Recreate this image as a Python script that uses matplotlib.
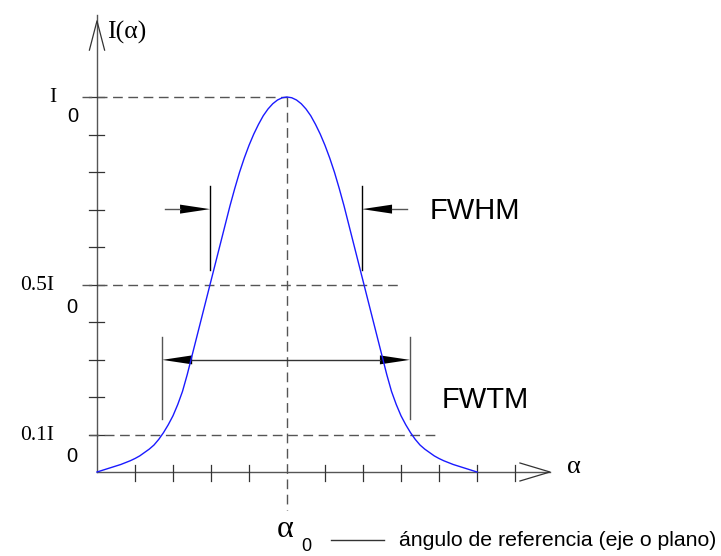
import numpy as np
import matplotlib
matplotlib.use("Agg")
import matplotlib.pyplot as plt

# ---------------- data ----------------
# angle in tick units relative to alpha_0 (left half, 0.125 steps), intensity in units of I0
alpha_left = [-5.0, -4.875, -4.75, -4.625, -4.5, -4.375, -4.25, -4.125,
              -4.0, -3.875, -3.75, -3.625, -3.5, -3.375, -3.25, -3.125,
              -3.0, -2.875, -2.75, -2.625, -2.5, -2.375, -2.25, -2.125,
              -2.0, -1.875, -1.75, -1.625, -1.5, -1.375, -1.25, -1.125,
              -1.0, -0.875, -0.75, -0.625, -0.5, -0.375, -0.25, -0.125, 0.0]
intensity_left = [0.000, 0.004, 0.008, 0.012, 0.016, 0.020, 0.025, 0.030,
                  0.036, 0.043, 0.052, 0.061, 0.072, 0.087, 0.105, 0.126,
                  0.150, 0.180, 0.215, 0.260, 0.310, 0.360, 0.410, 0.460,
                  0.510, 0.560, 0.610, 0.660, 0.710, 0.756, 0.799, 0.837,
                  0.871, 0.901, 0.927, 0.950, 0.968, 0.982, 0.992, 0.998, 1.000]
# the right half mirrors the left one
alpha_right = [0.125, 0.25, 0.375, 0.5, 0.625, 0.75, 0.875, 1.0,
               1.125, 1.25, 1.375, 1.5, 1.625, 1.75, 1.875, 2.0,
               2.125, 2.25, 2.375, 2.5, 2.625, 2.75, 2.875, 3.0,
               3.125, 3.25, 3.375, 3.5, 3.625, 3.75, 3.875, 4.0,
               4.125, 4.25, 4.375, 4.5, 4.625, 4.75, 4.875, 5.0]
intensity_right = [0.998, 0.992, 0.982, 0.968, 0.950, 0.927, 0.901, 0.871,
                   0.837, 0.799, 0.756, 0.710, 0.660, 0.610, 0.560, 0.510,
                   0.460, 0.410, 0.360, 0.310, 0.260, 0.215, 0.180, 0.150,
                   0.126, 0.105, 0.087, 0.072, 0.061, 0.052, 0.043, 0.036,
                   0.030, 0.025, 0.020, 0.016, 0.012, 0.008, 0.004, 0.000]
x_ticks = [-4, -3, -2, -1, 1, 2, 3, 4, 5, 6]
y_ticks = [0.1, 0.2, 0.3, 0.4, 0.5, 0.6, 0.7, 0.8, 0.9, 1.0]
ref_labels = ["I", "0.5I", "0.1I"]

alpha = alpha_left + alpha_right
intensity = intensity_left + intensity_right

# ---------------- figure ----------------
fig = plt.figure(figsize=(7.21, 5.56), dpi=100)
ax = fig.add_axes([0, 0, 1, 1])
ax.set_xlim(-287 / 38, (721 - 287) / 38)
ax.set_ylim((472 - 556) / 375, 472 / 375)
ax.axis("off")

gray = "#555555"
dark = "#333333"
serif = "Liberation Serif"
sans = "Liberation Sans"

# axes
ax.plot([-5, -5], [0, 1.219], color=gray, lw=1.0)
ax.plot([-5.20, -5, -4.80], [1.125, 1.203, 1.125], color=dark, lw=0.9)
ax.plot([-5, 6.92], [0, 0], color=gray, lw=1.0)
ax.plot([6.13, 6.92, 6.13], [0.024, 0, -0.024], color=dark, lw=0.9)

for t in x_ticks:
    ax.plot([t, t], [0.019, -0.024], color=dark, lw=0.9)
for t in y_ticks:
    ax.plot([-5.21, -4.82], [t, t], color=dark, lw=0.9)

# dashed reference lines
dash = dict(color=gray, lw=1.0, dashes=(7, 4))
ax.plot([-5.39, 0], [1.0, 1.0], **dash)
ax.plot([-5.39, 2.97], [0.5, 0.5], **dash)
ax.plot([-5.21, 3.97], [0.1, 0.1], **dash)
ax.plot([0, 0], [1.0, -0.101], **dash)

# curve
ax.plot(alpha, intensity, color="#1a1aff", lw=1.0)

a = np.array(alpha_left)
v = np.array(intensity_left)
hl = np.interp(0.5, v, a)
tl = np.interp(0.1, v, a)
hr = -hl - 0.05
tr = -tl - 0.05

L = 30 / 38   # arrow head length
H = 0.012     # arrow head half height

# FWHM markers
ax.plot([hl, hl], [0.539, 0.763], color="black", lw=1.0)
ax.plot([hr, hr], [0.539, 0.763], color="black", lw=1.0)
yh = 0.701
ax.plot([hl - L - 0.4, hl - L], [yh, yh], color=gray, lw=1.0)
ax.fill([hl - L, hl, hl - L], [yh + H, yh, yh - H], color="black", lw=0)
ax.plot([hr + L, hr + L + 0.4], [yh, yh], color=gray, lw=1.0)
ax.fill([hr + L, hr, hr + L], [yh + H, yh, yh - H], color="black", lw=0)

# FWTM markers
ax.plot([tl, tl], [0.141, 0.36], color=gray, lw=1.0)
ax.plot([tr, tr], [0.141, 0.36], color=gray, lw=1.0)
yt = 0.299
ax.plot([tl + L, tr - L], [yt, yt], color=dark, lw=1.0)
ax.fill([tl + L, tl, tl + L], [yt + H, yt, yt - H], color="black", lw=0)
ax.fill([tr - L, tr, tr - L], [yt + H, yt, yt - H], color="black", lw=0)

# texts
ax.text(-4.74, 1.157, "I(α)", family=serif, fontsize=18.5, ha="left", va="baseline")
ax.text(-6.27, 0.987, ref_labels[0], family=serif, fontsize=15.5, ha="left", va="baseline")
ax.text(-5.79, 0.933, "0", family=sans, fontsize=14.5, ha="left", va="baseline")
ax.text(-6.13, 0.485, ref_labels[1], family=serif, fontsize=15.5, ha="right", va="baseline")
ax.text(-5.82, 0.424, "0", family=sans, fontsize=14.5, ha="left", va="baseline")
ax.text(-6.13, 0.085, ref_labels[2], family=serif, fontsize=15.5, ha="right", va="baseline")
ax.text(-5.82, 0.027, "0", family=sans, fontsize=14.5, ha="left", va="baseline")

ax.text(7.37, 0.013, "α", family=serif, fontsize=19, ha="left", va="center")
ax.text(-0.26, -0.173, "α", family=serif, fontsize=23, ha="left", va="baseline")
ax.text(0.37, -0.210, "0", family=sans, fontsize=13, ha="left", va="baseline")
ax.plot([1.16, 2.55], [-0.181, -0.181], color=dark, lw=1.0)
ax.text(2.95, -0.197, "ángulo de referencia (eje o plano)", family=sans, fontsize=15.3,
        ha="left", va="baseline")

ax.text(3.76, 0.675, "FWHM", family=sans, fontsize=21, ha="left", va="baseline")
ax.text(4.08, 0.171, "FWTM", family=sans, fontsize=21, ha="left", va="baseline")

fig.savefig("out.png", dpi=100)
